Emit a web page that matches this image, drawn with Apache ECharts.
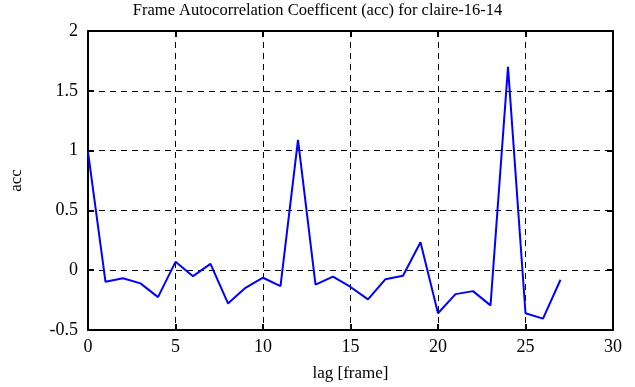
<!DOCTYPE html>
<html>
<head>
<meta charset="utf-8">
<script src="https://cdn.jsdelivr.net/npm/echarts@6/dist/echarts.min.js"></script>
<style>html,body{margin:0;padding:0;background:#fff;}#c{width:635px;height:387px;}</style>
</head>
<body>
<div id="c"></div>
<script>
const titleText = 'Frame Autocorrelation Coefficent (acc) for claire-16-14';
const xLabel = 'lag [frame]';
const yLabel = 'acc';
const lags = [0,1,2,3,4,5,6,7,8,9,10,11,12,13,14,15,16,17,18,19,20,21,22,23,24,25,26,27];
const acc = [0.99,-0.097,-0.067,-0.11,-0.225,0.07,-0.05,0.053,-0.278,-0.147,-0.063,-0.133,1.09,-0.12,-0.053,-0.14,-0.244,-0.075,-0.047,0.233,-0.36,-0.2,-0.175,-0.294,1.70,-0.36,-0.405,-0.08];
const xTicks = [0,5,10,15,20,25,30];
const yTicks = [-0.5,0,0.5,1,1.5,2];

const font = 'Liberation Serif';
const chart = echarts.init(document.getElementById('c'), null, {renderer:'canvas'});
const axisLine = {show:true, onZero:false, lineStyle:{color:'#000', width:2}};
const tick = {show:true, inside:true, length:6, lineStyle:{color:'#000', width:2}};
const grid = {show:true, lineStyle:{color:'#000', type:[6,5], width:1}};
chart.setOption({
  animation:false,
  backgroundColor:'#fff',
  title:{text:titleText, left:'center', top:2, padding:0,
    textStyle:{fontFamily:font, fontWeight:'normal', fontSize:16.5, color:'#000'}},
  grid:{left:84, right:22, top:31, bottom:56, containLabel:false},
  xAxis:[{
    type:'value', min:xTicks[0], max:xTicks[xTicks.length-1], interval:5,
    name:xLabel, nameLocation:'middle', nameGap:35,
    nameTextStyle:{fontFamily:font, fontSize:17, color:'#000'},
    axisLine:axisLine, axisTick:tick, splitLine:grid,
    axisLabel:{fontFamily:font, fontSize:18, color:'#000', margin:8}
  },{
    type:'value', position:'top', min:xTicks[0], max:xTicks[xTicks.length-1], interval:5,
    axisLine:axisLine, axisTick:tick, splitLine:{show:false}, axisLabel:{show:false}
  }],
  yAxis:[{
    type:'value', min:yTicks[0], max:yTicks[yTicks.length-1], interval:0.5,
    name:yLabel, nameLocation:'middle', nameGap:63, nameRotate:90,
    nameTextStyle:{fontFamily:font, fontSize:17, color:'#000'},
    axisLine:axisLine, axisTick:tick, splitLine:grid,
    axisLabel:{fontFamily:font, fontSize:18, color:'#000', margin:10}
  },{
    type:'value', position:'right', min:yTicks[0], max:yTicks[yTicks.length-1], interval:0.5,
    axisLine:axisLine, axisTick:tick, splitLine:{show:false}, axisLabel:{show:false}
  }],
  series:[{
    type:'line', data:lags.map((l,i)=>[l, acc[i]]), showSymbol:false,
    lineStyle:{color:'#0000ff', width:2}, itemStyle:{color:'#0000ff'}
  }]
});
</script>
</body>
</html>
